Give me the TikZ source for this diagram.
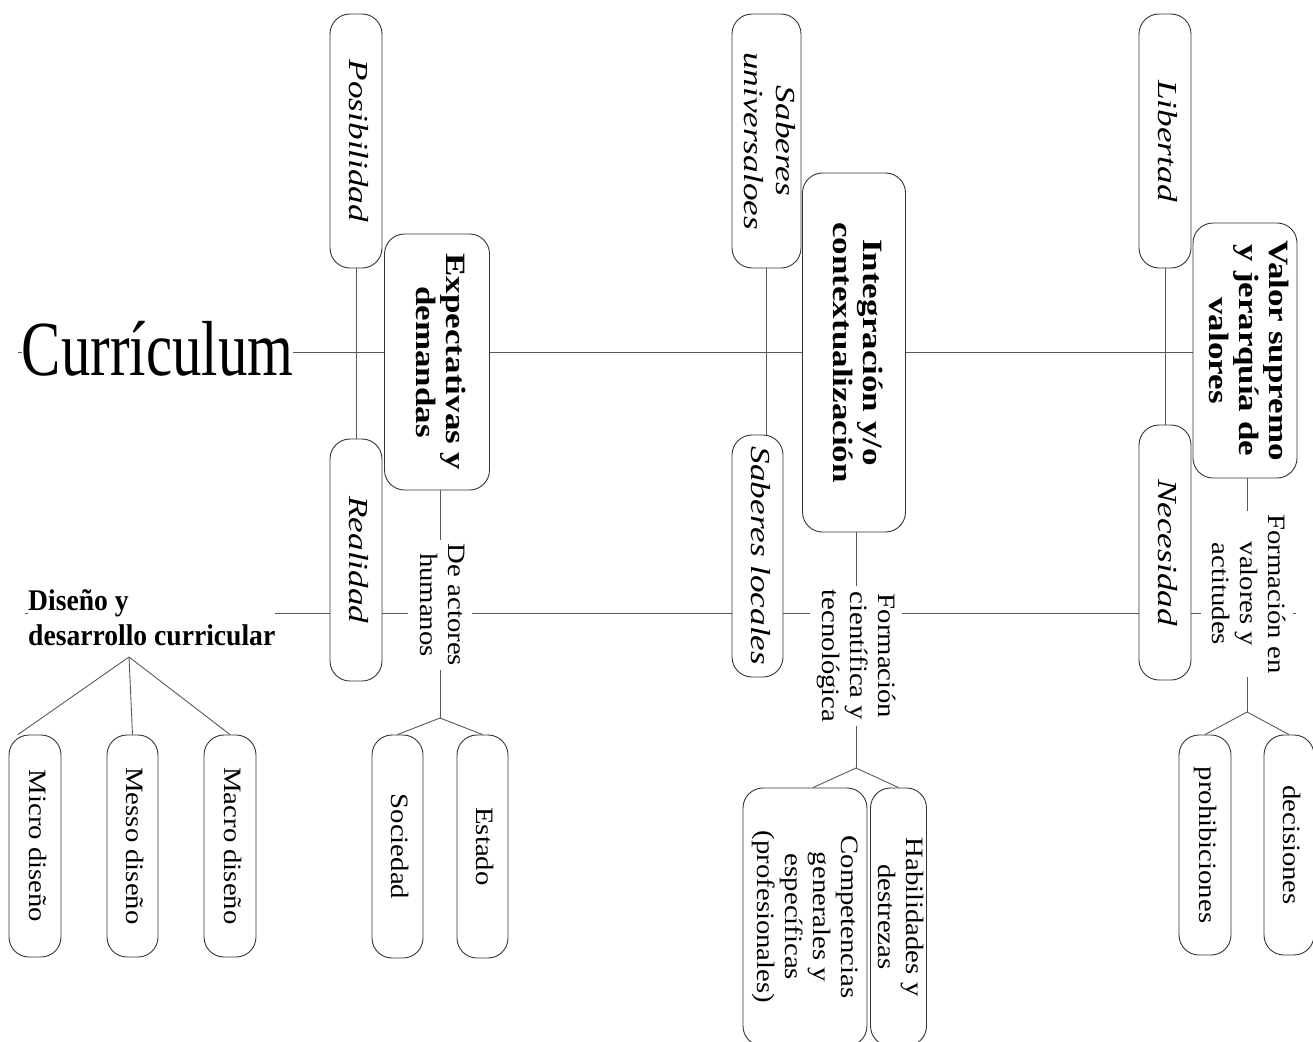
\documentclass[tikz,border=0pt]{standalone}
\usepackage{fontspec}
\setmainfont{Liberation Serif}
\usepackage{graphicx}
\usetikzlibrary{backgrounds,calc}

\newcommand{\vtxt}[2]{\rotatebox{-90}{\scalebox{#1}[1]{\begin{tabular}{@{}c@{}}#2\end{tabular}}}}
\newcommand{\fit}{\fontsize{27.5}{32}\selectfont\itshape}
\newcommand{\fbd}{\fontsize{28}{30}\selectfont\bfseries}
\newcommand{\frg}{\fontsize{25}{28}\selectfont}

\tikzset{
  box/.style={draw=black!80, line width=0.9pt, rounded corners=20pt, fill=white, inner sep=0pt},
  lbl/.style={fill=white, inner sep=4pt},
  conn/.style={draw=black!65, line width=0.9pt},
}

\begin{document}
\begin{tikzpicture}[x=1pt,y=-1pt]
\useasboundingbox (0,0) rectangle (1313,1041);
\clip (0,0) rectangle (1313,1041);

% title nodes
\node[fill=white, inner sep=0pt, anchor=base] (curric) at (157.5,375)
  {\fontsize{78}{80}\selectfont\scalebox{0.755}[1]{Currículum}};
\node[fill=white, inner sep=0pt, anchor=north west] (diseno) at (28,585.5)
  {\fontsize{30}{35}\selectfont\bfseries\scalebox{0.92}[1]{\begin{tabular}{@{}l@{}}Diseño y\\desarrollo curricular\end{tabular}}};

% column 1
\node[box, minimum width=52, minimum height=254] (posib) at (356,141) {\fit\vtxt{1.28}{Posibilidad}};
\node[box, minimum width=52, minimum height=242] (realid) at (356,560) {\fit\vtxt{1.28}{Realidad}};
\node[box, minimum width=105, minimum height=256] (expect) at (437,362) {\fbd\vtxt{1.25}{Expectativas y\\demandas}};
\node[lbl] (actores) at (440,605) {\frg\vtxt{1.15}{De actores\\humanos}};
\node[box, minimum width=51, minimum height=223] (socied) at (397.5,846.5) {\frg\vtxt{1.15}{Sociedad}};
\node[box, minimum width=51, minimum height=223] (estado) at (482.5,846.5) {\frg\vtxt{1.15}{Estado}};

% column 2
\node[box, minimum width=69, minimum height=254] (saberU) at (766.5,141) {\fit\vtxt{1.28}{Saberes\\universaloes}};
\node[box, minimum width=51, minimum height=242] (saberL) at (757.5,556) {\fit\vtxt{1.28}{Saberes locales}};
\node[box, minimum width=103, minimum height=359] (integ) at (854,352.5) {\fbd\vtxt{1.25}{Integración y/o\\contextualización}};
\node[lbl] (formC) at (856,656) {\frg\vtxt{1.15}{Formación\\científica y\\tecnológica}};
\node[box, minimum width=124, minimum height=258] (compet) at (805,917) {\frg\vtxt{1.15}{Competencias\\generales y\\específicas\\(profesionales)}};
\node[box, minimum width=53, minimum height=258] (habil) at (898.5,917) {\frg\vtxt{1.15}{Habilidades y\\destrezas}};

% column 3
\node[box, minimum width=52, minimum height=254] (libert) at (1165,141) {\fit\vtxt{1.28}{Libertad}};
\node[box, minimum width=52, minimum height=255] (necesid) at (1165,552.5) {\fit\vtxt{1.28}{Necesidad}};
\node[box, minimum width=104, minimum height=255] (valor) at (1245,350.5) {\fbd\vtxt{1.25}{Valor supremo\\y jerarquía de\\valores}};
\node[lbl] (formV) at (1246.5,594) {\frg\vtxt{1.15}{Formación en\\valores y\\actitudes}};
\node[box, minimum width=52, minimum height=220] (prohib) at (1205,845) {\frg\vtxt{1.15}{prohibiciones}};
\node[box, minimum width=50, minimum height=220] (decis) at (1289,845) {\frg\vtxt{1.15}{decisiones}};

% design levels
\node[box, minimum width=52, minimum height=222] (micro) at (35,846) {\frg\vtxt{1.15}{Micro diseño}};
\node[box, minimum width=51, minimum height=222] (messo) at (132.5,846) {\frg\vtxt{1.15}{Messo diseño}};
\node[box, minimum width=52, minimum height=222] (macro) at (230,846) {\frg\vtxt{1.15}{Macro diseño}};

% helper coordinates
\coordinate (cL) at (18,352);
\coordinate (dL) at (25,613);
\coordinate (dR) at (1296,613);
\coordinate (brD) at (129,657);
\coordinate (brA) at (440,718);
\coordinate (brC) at (856,768);
\coordinate (brV) at (1247,712);

\begin{scope}[on background layer]
  \draw[conn] (cL) -- (cL -| valor.west);
  \draw[conn] (dL) -- (dR);
  \draw[conn] (posib) -- (realid);
  \draw[conn] (saberU.south) -- (saberU.south |- saberL.north);
  \draw[conn] (libert) -- (necesid);
  \draw[conn] (expect.south -| brA) -- (brA);
  \draw[conn] (integ.south -| brC) -- (brC);
  \draw[conn] (valor.south -| brV) -- (brV);
  \draw[conn] (brA) -- (socied.north);
  \draw[conn] (brA) -- (estado.north);
  \draw[conn] (brC) -- ($(compet.north)+(8,0)$);
  \draw[conn] (brC) -- (habil.north);
  \draw[conn] (brV) -- (prohib.north);
  \draw[conn] (brV) -- (decis.north);
  \draw[conn] (brD) -- ($(micro.north)+(-17,0)$);
  \draw[conn] (brD) -- (messo.north);
  \draw[conn] (brD) -- (macro.north);
\end{scope}
\end{tikzpicture}
\end{document}
